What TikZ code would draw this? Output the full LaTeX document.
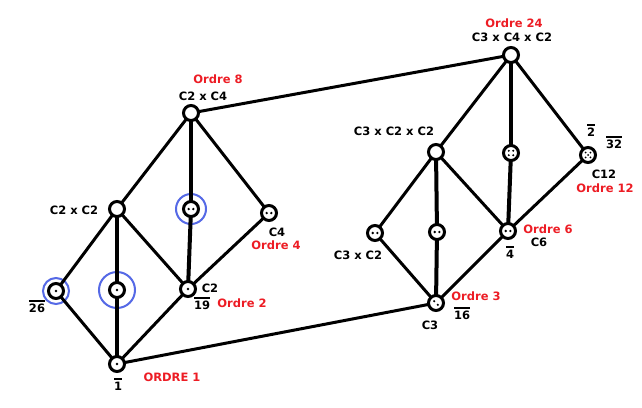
\documentclass[tikz,border=0pt]{standalone}
\usepackage{fontspec}
\setmainfont{DejaVu Sans}
\usetikzlibrary{calc,backgrounds}
\definecolor{ordrered}{RGB}{237,28,36}
\definecolor{ringblue}{RGB}{85,105,230}
\newcommand{\ovl}[1]{\vbox{\hrule height 1.8pt\kern 1.8pt\hbox{#1}}}
\tikzset{
	vertex/.style={circle, draw=black, fill=white, line width=3pt, minimum size=15pt, inner sep=0pt},
	edge/.style={line width=3pt},
	vedge/.style={line width=4pt},
	ring/.style={draw=ringblue, line width=2pt},
	dot/.style={fill=black},
	lab/.style={font=\fontsize{11.5}{13}\selectfont\bfseries, inner sep=0pt},
	ordre/.style={lab, text=ordrered},
}
\begin{document}
\begin{tikzpicture}[x=1pt,y=-1pt]
			%%%%% START %%%%%
			\useasboundingbox (0,0) rectangle (642,407);
			
			% left lattice
			\node[vertex] (ltop) at (191,113) {};
			\node[vertex] (lcc) at (117,209) {};
			\node[vertex] (lmidup) at (191,209) {};
			\node[vertex] (lcf) at (269,213) {};
			\node[vertex] (lsix) at (56,291) {};
			\node[vertex] (lmidlo) at (117,290) {};
			\node[vertex] (lct) at (188,289) {};
			\node[vertex] (lbot) at (117,364) {};
			
			% right lattice
			\node[vertex] (rtop) at (511,55) {};
			\node[vertex] (rccc) at (436,152) {};
			\node[vertex] (rmidup) at (511,153) {};
			\node[vertex] (rctw) at (588,155) {};
			\node[vertex] (rcc) at (375,233) {};
			\node[vertex] (rmidlo) at (437,232) {};
			\node[vertex] (rcsix) at (508,231) {};
			\node[vertex] (rbot) at (436,303) {};
			
			\begin{pgfonlayer}{background}
			\fill[white] (0,0) rectangle (642,407);
			% blue rings
			\draw[ring] (lsix) circle (13pt);
			\draw[ring] (lmidlo) circle (18pt);
			\draw[ring] (lmidup) circle (15pt);
			\foreach \a/\b in {ltop/lcc, ltop/lcf, lcc/lsix, lcc/lct, lcf/lct, lsix/lbot, lct/lbot,
				rtop/rccc, rtop/rctw, rccc/rcc, rccc/rcsix, rctw/rcsix, rcc/rbot, rcsix/rbot,
				ltop/rtop, lbot/rbot}
				\draw[edge] (\a.center) -- (\b.center);
			\foreach \a/\b in {ltop/lmidup, lcc/lmidlo, lmidup/lct, lmidlo/lbot,
				rtop/rmidup, rccc/rmidlo, rmidup/rcsix, rmidlo/rbot}
				\draw[vedge] (\a.center) -- (\b.center);
			\end{pgfonlayer}
			
			% dots
			\foreach \v in {lsix, lmidlo, lct, lbot}
				\fill[dot] (\v) circle (1.3pt);
			\foreach \v in {lmidup, lcf, rcc, rmidlo, rcsix}
				\fill[dot] ($(\v)+(-2.3,0)$) circle (1.3pt) ($(\v)+(2.3,0)$) circle (1.3pt);
			\fill[dot] ($(rbot)+(-1.8,-1.8)$) circle (1.2pt) ($(rbot)+(1.8,1.8)$) circle (1.2pt);
			\foreach \dx/\dy in {-2.2/-2.2, 2.2/-2.2, -2.2/2.2, 2.2/2.2}
				\fill[dot] ($(rmidup)+(\dx,\dy)$) circle (1.1pt);
			\foreach \dx/\dy in {-2.4/-2.4, 2.4/-2.4, 0/0, -2.4/2.4, 2.4/2.4}
				\fill[dot] ($(rctw)+(\dx,\dy)$) circle (1pt);
			
			% labels left
			\node[ordre] (t8) at (218,79) {Ordre 8};
			\node[lab] (tc2c4) at (203,96) {C2 x C4};
			\node[lab] (tc2c2) at (74,210) {C2 x C2};
			\node[lab] (tc4) at (277,232) {C4};
			\node[ordre] (t4) at (276,245) {Ordre 4};
			\node[lab] (tc2) at (210,288) {C2};
			\node[lab, anchor=base] (t19) at (202,309) {\ovl{19}};
			\node[ordre] (t2) at (242,303) {Ordre 2};
			\node[lab, anchor=base] (t26) at (37,312) {\ovl{26}};
			\node[lab, anchor=base] (t1) at (118,390) {\ovl{1}};
			\node[ordre] (t1o) at (172,377) {ORDRE 1};
			
			% labels right
			\node[ordre] (t24) at (514,23) {Ordre 24};
			\node[lab] (tc3c4c2) at (512,37) {C3 x C4 x C2};
			\node[lab] (tc3c2c2) at (394,131) {C3 x C2 x C2};
			\node[lab, anchor=base] (ttwo) at (591,136) {\ovl{2}};
			\node[lab, anchor=base] (t32) at (614,148) {\ovl{32}};
			\node[lab] (tc12) at (604,174) {C12};
			\node[ordre] (t12) at (605,188) {Ordre 12};
			\node[ordre] (t6) at (548,229) {Ordre 6};
			\node[lab] (tc6) at (539,242) {C6};
			\node[lab, anchor=base] (tfour) at (510,258) {\ovl{4}};
			\node[lab] (tc3c2) at (358,255) {C3 x C2};
			\node[ordre] (t3) at (476,296) {Ordre 3};
			\node[lab, anchor=base] (t16) at (462,319) {\ovl{16}};
			\node[lab] (tc3) at (430,325) {C3};
			%%%%% END %%%%%
\end{tikzpicture}
\end{document}
